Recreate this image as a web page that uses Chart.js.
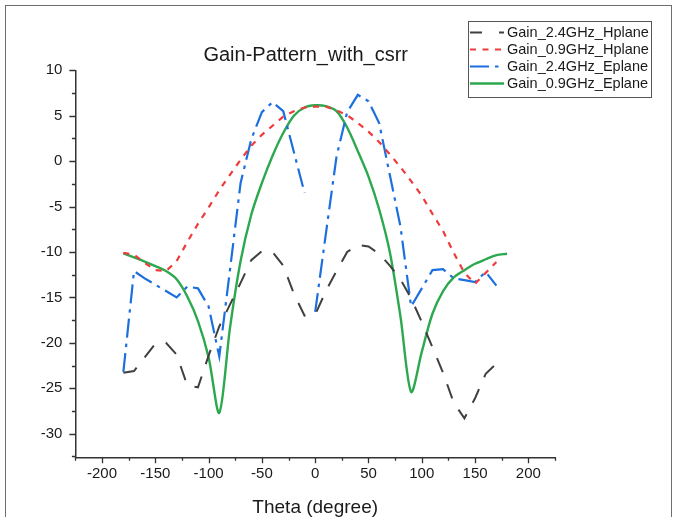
<!DOCTYPE html>
<html><head><meta charset="utf-8">
<script src="https://cdn.jsdelivr.net/npm/chart.js@4.4.0/dist/chart.umd.min.js"></script>
<style>html,body{margin:0;padding:0;background:#fff}</style>
</head><body>
<canvas id="c" width="677" height="517"></canvas>
<script>
const chartTitle = 'Gain-Pattern_with_csrr';
const xAxisTitle = 'Theta (degree)';
const seriesNames = ['Gain_2.4GHz_Hplane', 'Gain_0.9GHz_Hplane', 'Gain_2.4GHz_Eplane', 'Gain_0.9GHz_Eplane'];

const thetaH = [-180,-170,-160,-150,-140,-130,-120,-110,-100,-90,-80,-70,-60,-50,-40,-30,-20,-10,0,10,20,30,40,50,60,70,80,90,100,110,120,130,140,150,160,170];
const thetaE = [-180,-170,-160,-150,-140,-130,-120,-110,-100,-90,-80,-70,-60,-50,-40,-30,-20,-10,0,10,20,30,40,50,60,70,80,90,100,110,120,130,140,150,160,170,180];

const gain24H = [-23.3,-23.1,-21.6,-20.1,-20.0,-21.3,-24.7,-24.9,-21.4,-18.2,-15.8,-13.4,-10.9,-9.9,-10.0,-11.5,-14.6,-17.0,-16.9,-14.3,-12.1,-10.0,-9.2,-9.4,-10.2,-11.5,-13.0,-15.1,-17.7,-20.5,-23.3,-26.6,-28.3,-26.1,-23.4,-22.3];
const gain09H = [-10.1,-10.3,-11.2,-12.0,-12.1,-11.0,-8.9,-6.9,-5.1,-3.2,-1.5,0.15,1.7,2.9,3.9,4.9,5.5,5.9,6.0,6.0,5.6,5.05,4.2,3.25,2.1,0.75,-0.65,-2.2,-3.8,-5.8,-7.7,-10.1,-12.3,-13.5,-12.3,-11.1];
const gain24E = [-23.2,-12.1,-12.9,-13.6,-14.3,-15.0,-13.8,-14.0,-16.0,-21.5,-12.0,-2.4,2.4,5.4,6.5,5.5,1.0,-3.5,-16.6,-8.0,0.5,5.4,7.3,6.6,4.2,-1.5,-7.2,-16.0,-14.0,-12.0,-11.9,-12.9,-13.1,-13.3,-12.2,-13.7];
const gain09E = [-10.15,-10.6,-11.05,-11.55,-12.1,-13.0,-14.9,-17.6,-21.6,-27.7,-18.4,-11.0,-5.9,-2.4,0.6,3.1,5.0,5.9,6.15,6.05,5.5,3.7,1.1,-1.7,-5.3,-10.0,-17.1,-25.4,-21.0,-16.8,-14.3,-12.8,-12.0,-11.3,-10.8,-10.35,-10.2];

// segment of the 2.4GHz E-plane trace that is not drawn in the source figure (start angle)
const hiddenSegmentStart24E = [-10];

const xTickValues = [-200,-150,-100,-50,0,50,100,150,200];
const yTickValues = [-30,-25,-20,-15,-10,-5,0,5,10];

const pts = (xs, ys) => xs.map((x, i) => ({x: x, y: ys[i]}));
const FONT = "'Liberation Sans', Arial, sans-serif";

const frame = {
  id: 'frame',
  beforeDraw(chart) {
    const ctx = chart.ctx;
    ctx.save();
    ctx.fillStyle = '#fff';
    ctx.fillRect(0, 0, chart.width, chart.height);
    ctx.strokeStyle = '#6e6e6e';
    ctx.lineWidth = 1;
    ctx.strokeRect(5.5, 5.5, chart.width - 11, chart.height + 20);
    ctx.restore();
  }
};

const extras = {
  id: 'extras',
  afterDraw(chart) {
    const ctx = chart.ctx;
    const xs = chart.scales.x, ys = chart.scales.y;
    ctx.save();
    ctx.strokeStyle = '#333';
    ctx.lineWidth = 1.3;
    ctx.beginPath();
    for (let v = xs.min; v <= xs.max + 0.001; v += 25) {
      const px = Math.round(xs.getPixelForValue(v)) + 0.5;
      const len = (Math.abs(v) % 50 === 0) ? 6 : 3.5;
      ctx.moveTo(px, xs.top);
      ctx.lineTo(px, xs.top + len);
    }
    for (let v = -32.5; v <= ys.max + 0.001; v += 2.5) {
      const py = Math.round(ys.getPixelForValue(v)) + 0.5;
      const len = (Math.abs(v) % 5 === 0) ? 6 : 3.5;
      ctx.moveTo(ys.right - len, py);
      ctx.lineTo(ys.right, py);
    }
    ctx.stroke();

    ctx.fillStyle = '#1a1a1a';
    ctx.font = '20px ' + FONT;
    ctx.textAlign = 'center';
    ctx.textBaseline = 'alphabetic';
    ctx.fillText(chartTitle, (chart.chartArea.left + chart.chartArea.right) / 2 - 9.5, 61);

    const bx = 468.5, by = 21.5, bw = 183, bh = 76;
    ctx.strokeStyle = '#555';
    ctx.lineWidth = 1;
    ctx.fillStyle = '#fff';
    ctx.fillRect(bx, by, bw, bh);
    ctx.strokeRect(bx, by, bw, bh);
    ctx.font = '14.5px ' + FONT;
    ctx.textAlign = 'left';
    ctx.textBaseline = 'middle';
    chart.data.datasets.forEach((ds, i) => {
      const y = 32.5 + i * 17;
      ctx.save();
      ctx.strokeStyle = ds.borderColor;
      ctx.lineWidth = ds.borderWidth;
      ctx.setLineDash(ds.legendDash || []);
      ctx.beginPath();
      ctx.moveTo(470, y);
      ctx.lineTo(504, y);
      ctx.stroke();
      ctx.restore();
      ctx.fillStyle = '#1a1a1a';
      ctx.fillText(ds.label, 507, y + 0.5);
    });
    ctx.restore();
  }
};

new Chart(document.getElementById('c'), {
  type: 'line',
  data: {
    datasets: [
      { label: seriesNames[0], data: pts(thetaH, gain24H), borderColor: '#404040', borderWidth: 2, borderDash: [15, 13], legendDash: [12, 17, 6], tension: 0, pointRadius: 0, fill: false },
      { label: seriesNames[1], data: pts(thetaH, gain09H), borderColor: '#ee3b3b', borderWidth: 2.2, borderDash: [6, 6.5], legendDash: [6, 6.5], tension: 0, pointRadius: 0, fill: false },
      { label: seriesNames[2], data: pts(thetaH, gain24E), borderColor: '#1c6fdf', borderWidth: 2.2, borderDash: [19, 6, 3.5, 6], legendDash: [19, 6, 3.5, 6], tension: 0, pointRadius: 0, fill: false,
        segment: { borderColor: c => hiddenSegmentStart24E.includes(c.p0.parsed.x) ? 'rgba(0,0,0,0)' : undefined } },
      { label: seriesNames[3], data: pts(thetaE, gain09E), borderColor: '#2ca84e', borderWidth: 2.4, borderDash: [], legendDash: [], tension: 0.3, pointRadius: 0, fill: false }
    ]
  },
  options: {
    responsive: false,
    animation: false,
    devicePixelRatio: 1,
    layout: { padding: { top: 70.3, right: 122, left: 0, bottom: 0 } },
    plugins: { legend: { display: false }, title: { display: false }, tooltip: { enabled: false } },
    scales: {
      x: {
        type: 'linear', min: -225, max: 225,
        afterBuildTicks: s => { s.ticks = xTickValues.map(v => ({ value: v })); },
        afterFit: s => { s.height = 517 - 457.3; },
        ticks: { font: { family: FONT, size: 15 }, color: '#1a1a1a', padding: 2, maxRotation: 0, autoSkip: false },
        grid: { drawOnChartArea: false, drawTicks: true, tickLength: 6, color: 'rgba(0,0,0,0)' },
        border: { display: true, color: '#333', width: 1.5 },
        title: { display: true, text: xAxisTitle, font: { family: FONT, size: 19, lineHeight: 1 }, color: '#1a1a1a', padding: { top: 0, bottom: 0 } }
      },
      y: {
        type: 'linear', min: -32.6, max: 10,
        afterBuildTicks: s => { s.ticks = yTickValues.map(v => ({ value: v })); },
        afterFit: s => { s.width = 75.4; },
        ticks: { font: { family: FONT, size: 15 }, color: '#1a1a1a', padding: 7 },
        grid: { drawOnChartArea: false, drawTicks: true, tickLength: 6, color: 'rgba(0,0,0,0)' },
        border: { display: true, color: '#333', width: 1.5 }
      }
    }
  },
  plugins: [frame, extras]
});
</script>
</body></html>
